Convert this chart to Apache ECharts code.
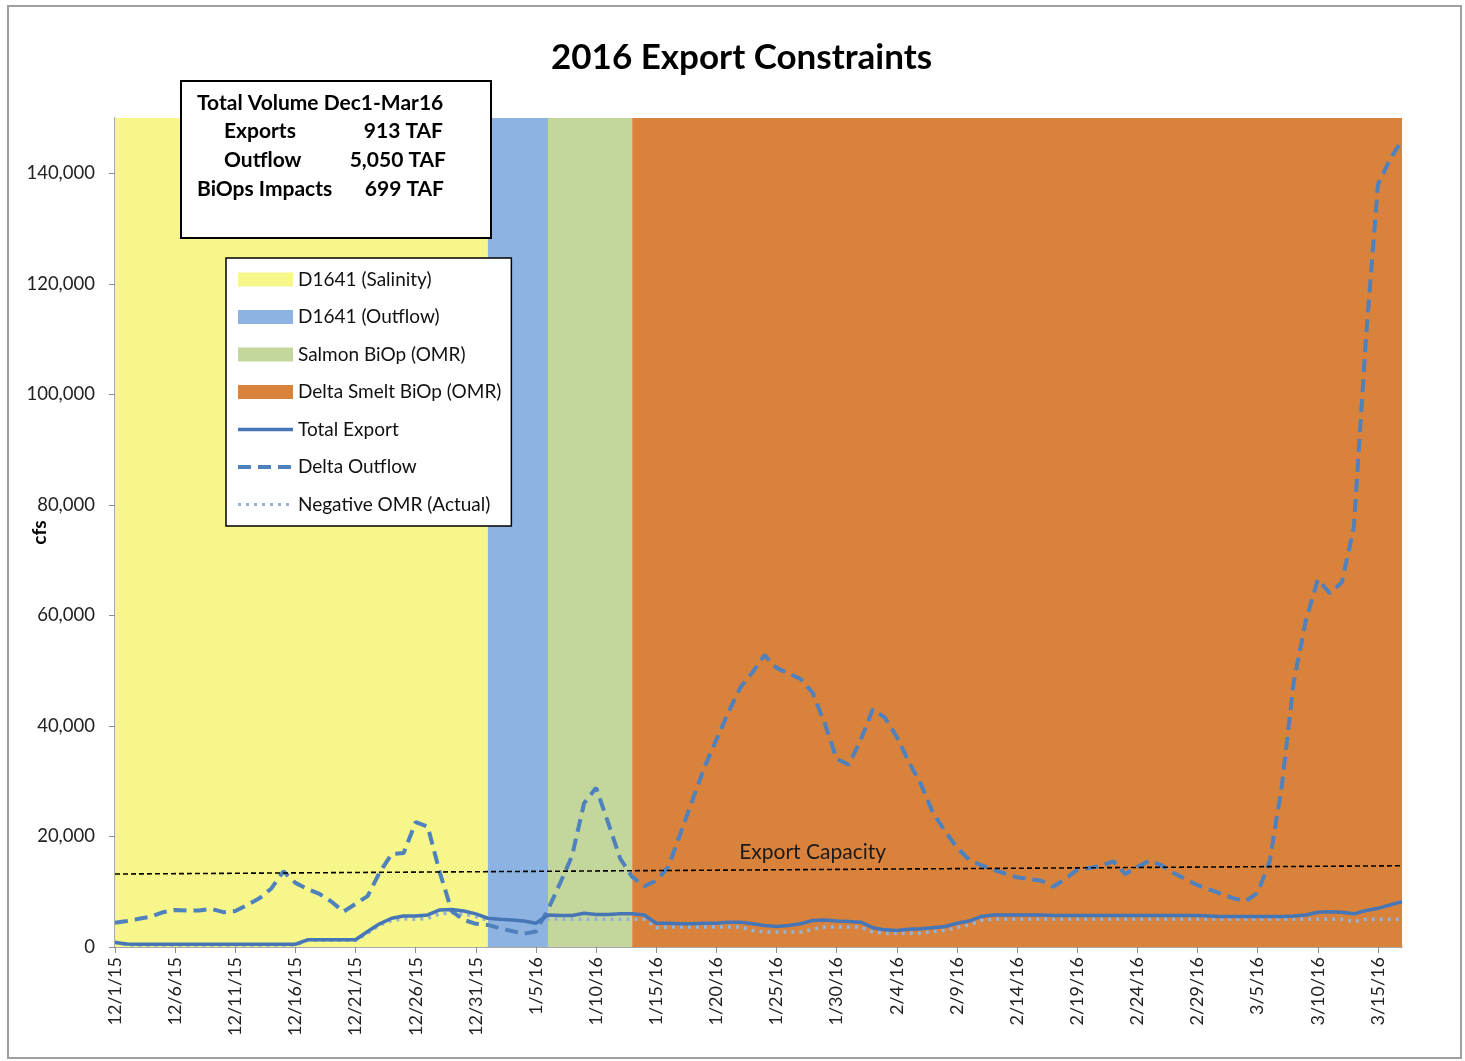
<!DOCTYPE html>
<html>
<head>
<meta charset="utf-8">
<script src="https://cdn.jsdelivr.net/npm/echarts@6/dist/echarts.min.js"></script>
<style>
  html, body { margin: 0; padding: 0; background: #fff; }
  #export_chart { width: 1465px; height: 1061px; }
</style>
</head>
<body>
<div id="export_chart"></div>
<script>
// daily dates 12/1/15 .. 3/17/16
var days = [];
var d = new Date(2015, 11, 1);
for (var k = 0; k < 108; k++) {
    days.push((d.getMonth() + 1) + '/' + d.getDate() + '/' + String(d.getFullYear()).slice(2));
    d.setDate(d.getDate() + 1);
}

var yTicks = [0, 20000, 40000, 60000, 80000, 100000, 120000, 140000];

var totalExport = [
    800, 550, 500, 500, 500, 500, 500, 500, 500, 500,
    500, 500, 500, 500, 500, 500, 1300, 1300, 1300, 1300,
    1300, 2800, 4200, 5200, 5600, 5600, 5800, 6700, 6800, 6500,
    6000, 5200, 5000, 4900, 4700, 4300, 5800, 5700, 5700, 6100,
    5900, 5900, 6000, 6000, 5800, 4300, 4300, 4200, 4200, 4300,
    4300, 4500, 4500, 4200, 3900, 3700, 3900, 4200, 4800, 4900,
    4700, 4600, 4500, 3500, 3100, 3000, 3200, 3300, 3500, 3700,
    4300, 4700, 5500, 5800, 5800, 5800, 5800, 5800, 5700, 5700,
    5700, 5700, 5700, 5700, 5700, 5700, 5700, 5700, 5700, 5700,
    5700, 5600, 5500, 5500, 5500, 5500, 5500, 5500, 5600, 5800,
    6300, 6400, 6300, 6000, 6600, 7000, 7600, 8200
];

var deltaOutflow = [
    4400, 4700, 5100, 5500, 6300, 6700, 6600, 6600, 6900, 6300,
    6500, 7600, 8800, 10600, 13700, 11600, 10500, 9600, 8200, 6400,
    7800, 9200, 13500, 16800, 17000, 22600, 21800, 13500, 6500, 4900,
    4200, 4000, 3400, 2900, 2400, 2800, 6800, 11500, 16500, 26000,
    28800, 22500, 16000, 12700, 11000, 12000, 14500, 20500, 26500, 32500,
    37500, 42500, 47000, 49700, 52800, 50500, 49500, 48500, 46000, 40500,
    34000, 33000, 37500, 43000, 41500, 38000, 33500, 29500, 24300, 21000,
    18000, 15800, 14800, 14000, 13300, 12600, 12300, 12000, 10900, 12300,
    14000, 14300, 14700, 15500, 13200, 14500, 15600, 14800, 13400, 12300,
    11200, 10400, 9600, 8800, 8300, 9800, 15500, 29000, 48000, 59000,
    66500, 64000, 66000, 76000, 110000, 138000, 142500, 146000
];

var negativeOMR = [
    900, 400, 350, 350, 350, 350, 350, 350, 350, 350,
    350, 350, 350, 350, 350, 350, 1200, 1200, 1200, 1200,
    1200, 2500, 4000, 4800, 5100, 5000, 5200, 6000, 6200, 6000,
    5500, 4800, 4000, 3300, 2600, 2700, 5100, 5000, 5000, 5000,
    5000, 5000, 5000, 5000, 5000, 3500, 3600, 3600, 3600, 3600,
    3600, 3600, 3600, 3000, 2700, 2700, 2700, 2700, 3200, 3600,
    3600, 3600, 3600, 2700, 2500, 2500, 2500, 2500, 2800, 3000,
    3500, 4000, 4800, 5000, 5000, 5000, 5000, 5000, 5000, 5000,
    5000, 5000, 5000, 5000, 5000, 5000, 5000, 5000, 5000, 5000,
    5000, 5000, 5000, 5000, 5000, 5000, 5000, 5000, 5000, 5000,
    5000, 5000, 5000, 4600, 5000, 5000, 5000, 5000
];

// constraint periods
var bandNames = ['D1641 (Salinity)', 'D1641 (Outflow)', 'Salmon BiOp (OMR)', 'Delta Smelt BiOp (OMR)'];
var bandStart = ['12/1/15', '1/1/16', '1/6/16', '1/13/16'];
var bandEnd = ['1/1/16', '1/6/16', '1/13/16', '3/17/16'];
var bandColors = ['#F6F68A', '#8DB3E2', '#C3D69B', '#D9823C'];

// export capacity line (start, end)
var capacityDays = ['12/1/15', '3/17/16'];
var capacityValues = [13200, 14700];

var fontName = 'Lato';
var boxFont = 'bold 21px ' + fontName;

var chart = echarts.init(document.getElementById('export_chart'));

var series = [];
for (var b = 0; b < bandNames.length; b++) {
    series.push({
        name: bandNames[b],
        type: 'line',
        data: [],
        symbol: 'none',
        itemStyle: { color: bandColors[b] },
        lineStyle: { width: 0 },
        silent: true,
        markArea: {
            silent: true,
            itemStyle: { color: bandColors[b], opacity: 1 },
            data: [[{ xAxis: bandStart[b] }, { xAxis: bandEnd[b] }]]
        }
    });
}

series.push({
    name: 'Total Export',
    type: 'line',
    data: totalExport,
    symbol: 'none',
    z: 5,
    itemStyle: { color: '#4676B6' },
    lineStyle: { color: '#4676B6', width: 3.5 }
});
series.push({
    name: 'Delta Outflow',
    type: 'line',
    data: deltaOutflow,
    symbol: 'none',
    z: 4,
    itemStyle: { color: '#4F81BD' },
    lineStyle: { color: '#4F81BD', width: 4, type: [13, 7] }
});
series.push({
    name: 'Negative OMR (Actual)',
    type: 'line',
    data: negativeOMR,
    symbol: 'none',
    z: 3,
    itemStyle: { color: '#95B3D7' },
    lineStyle: { color: '#95B3D7', width: 3.5, type: [3, 5] }
});
series.push({
    name: 'Export Capacity',
    type: 'line',
    data: [],
    symbol: 'none',
    z: 6,
    markLine: {
        silent: true,
        symbol: 'none',
        label: { show: false },
        lineStyle: { color: '#000', width: 1.6, type: [5, 3] },
        data: [[
            { coord: [capacityDays[0], capacityValues[0]] },
            { coord: [capacityDays[1], capacityValues[1]] }
        ]]
    },
    markPoint: {
        silent: true,
        symbol: 'rect',
        symbolSize: 1,
        itemStyle: { color: 'rgba(0,0,0,0)' },
        label: {
            show: true, position: 'inside', formatter: 'Export Capacity',
            color: '#1a1a1a', fontSize: 21, fontFamily: fontName
        },
        data: [{ coord: ['1/28/16', 17200] }]
    }
});

var option = {
    animation: false,
    backgroundColor: '#fff',
    title: {
        text: '2016 Export Constraints',
        left: 546,
        top: 35,
        textStyle: { fontSize: 35, fontWeight: 'bold', color: '#000', fontFamily: fontName }
    },
    grid: { left: 115, right: 63, top: 118, bottom: 114, containLabel: false },
    legend: {
        orient: 'vertical',
        left: 226,
        top: 258,
        padding: [12, 10, 12, 10],
        itemWidth: 55,
        itemHeight: 14,
        itemGap: 18.5,
        backgroundColor: '#fff',
        borderColor: '#000',
        borderWidth: 1.5,
        borderRadius: 0,
        textStyle: { fontSize: 19, color: '#111', fontFamily: fontName },
        data: [
            { name: bandNames[0], icon: 'rect' },
            { name: bandNames[1], icon: 'rect' },
            { name: bandNames[2], icon: 'rect' },
            { name: bandNames[3], icon: 'rect' },
            { name: 'Total Export', itemStyle: { opacity: 0 }, lineStyle: { width: 3.5 } },
            { name: 'Delta Outflow', itemStyle: { opacity: 0 }, lineStyle: { width: 4 } },
            { name: 'Negative OMR (Actual)', itemStyle: { opacity: 0 }, lineStyle: { width: 3 } }
        ]
    },
    xAxis: {
        type: 'category',
        data: days,
        boundaryGap: false,
        axisLine: { lineStyle: { color: '#8c8c8c', width: 1.5 } },
        axisTick: { interval: 4, length: 6, lineStyle: { color: '#8c8c8c' } },
        axisLabel: {
            interval: 4, rotate: 90, margin: 10,
            fontSize: 18, color: '#222', fontFamily: fontName
        },
        splitLine: { show: false }
    },
    yAxis: {
        type: 'value',
        min: 0,
        max: 150000,
        interval: 10000,
        name: 'cfs',
        nameLocation: 'middle',
        nameRotate: 90,
        nameGap: 66,
        nameMoveOverlap: false,
        nameTextStyle: { fontSize: 19, fontWeight: 'bold', color: '#000', fontFamily: fontName },
        axisLine: { show: true, lineStyle: { color: '#8c8c8c', width: 1.5 } },
        axisTick: { show: true, length: 6, customValues: yTicks, lineStyle: { color: '#8c8c8c' } },
        axisLabel: {
            customValues: yTicks,
            fontSize: 18.5, color: '#222', margin: 20, fontFamily: fontName,
            formatter: function (v) { return v.toLocaleString('en-US'); }
        },
        splitLine: { show: false }
    },
    graphic: [
        {
            type: 'rect', silent: true, z: 0,
            shape: { x: 8, y: 6, width: 1453, height: 1052 },
            style: { fill: 'none', stroke: '#a0a0a0', lineWidth: 2 }
        },
        { type: 'rect', z: 100, shape: { x: 181, y: 81, width: 310, height: 157 },
          style: { fill: '#fff', stroke: '#000', lineWidth: 2 } },
        { type: 'text', z: 101, x: 197, y: 93, style: { text: 'Total Volume Dec1-Mar16', font: boxFont, fill: '#000' } },
        { type: 'text', z: 101, x: 224, y: 121, style: { text: 'Exports', font: boxFont, fill: '#000' } },
        { type: 'text', z: 101, x: 443, y: 121, style: { text: '913 TAF', font: boxFont, fill: '#000', align: 'right' } },
        { type: 'text', z: 101, x: 224, y: 150, style: { text: 'Outflow', font: boxFont, fill: '#000' } },
        { type: 'text', z: 101, x: 446, y: 150, style: { text: '5,050 TAF', font: boxFont, fill: '#000', align: 'right' } },
        { type: 'text', z: 101, x: 197, y: 179, style: { text: 'BiOps Impacts', font: boxFont, fill: '#000' } },
        { type: 'text', z: 101, x: 444, y: 179, style: { text: '699 TAF', font: boxFont, fill: '#000', align: 'right' } }
    ],
    series: series
};

chart.setOption(option);
</script>
</body>
</html>
